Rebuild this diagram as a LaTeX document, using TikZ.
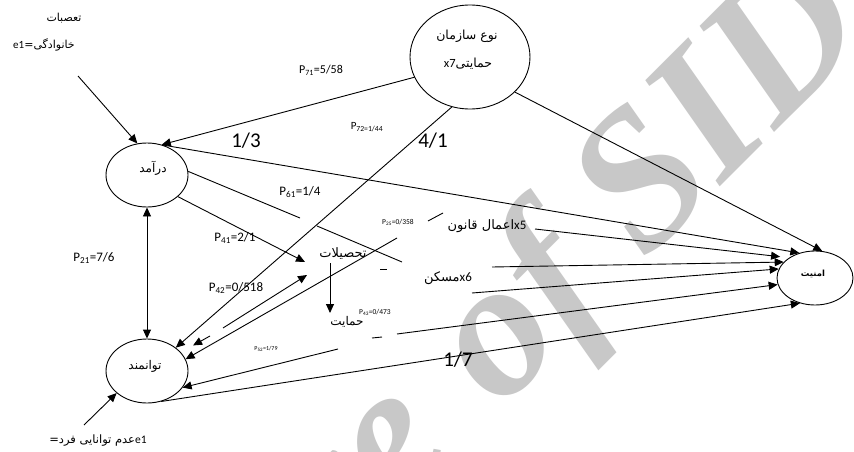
\documentclass[tikz,border=0pt]{standalone}
\usepackage{fontspec}
\setmainfont{Carlito}
\newfontfamily\fa[Script=Arabic]{DejaVu Sans}
\newfontfamily\wmf{Liberation Serif}
\TeXXeTstate=1
\usetikzlibrary{arrows.meta,shapes.geometric,calc}
\definecolor{wmgray}{RGB}{200,200,200}
\newcommand\lat[1]{{\rmfamily #1}}
\tikzset{
  ell/.style={draw, ellipse, line width=0.9pt, inner sep=0pt},
  con/.style={line width=0.9pt},
  arr/.style={con, -{Triangle[length=9pt,width=8pt]}},
  darr/.style={con, {Triangle[length=9pt,width=8pt]}-{Triangle[length=9pt,width=8pt]}},
  lbl/.style={inner sep=0pt, font=\fontsize{13}{15}\selectfont},
  big/.style={inner sep=0pt, font=\fontsize{21}{24}\selectfont},
  tiny/.style={inner sep=0pt, font=\fontsize{7.5}{9}\selectfont},
  fatxt/.style={inner sep=0pt, font=\fa\fontsize{11}{13}\selectfont},
  wm/.style={text=wmgray, inner sep=0pt, rotate=45, font=\wmf\bfseries\itshape\fontsize{195}{195}\selectfont},
}
\begin{document}
\begin{tikzpicture}[x=1pt,y=-1pt]
\useasboundingbox (0,0) rectangle (854,452);
\fill[white] (0,0) rectangle (854,452);
% watermark
\node[wm, anchor=base east] (wmA) at (458,452) {Archive};
\node[wm, anchor=base west] (wmB) at (500,411) {of};
\node[wm, anchor=base west] (wmC) at (645,262) {SID};

% ellipses
\node[ell, minimum width=82pt, minimum height=64pt] (dar) at (147,175) {};
\node[ell, minimum width=82pt, minimum height=64pt] (tav) at (147,371) {};
\node[ell, minimum width=120pt, minimum height=104pt] (x7) at (470,57) {};
\node[ell, minimum width=76pt, minimum height=54pt] (amn) at (815,278) {};

% texts in ellipses
\node[fatxt, font=\fa\fontsize{12}{14}\selectfont] (darT) at (153,168) {\beginR درآمد\endR};
\node[fatxt, font=\fa\fontsize{12}{14}\selectfont] (tavT) at (145,366) {\beginR توانمند\endR};
\node[fatxt, font=\fa\bfseries\fontsize{8.5}{10}\selectfont] (amnT) at (813,274) {\beginR امنیت\endR};
\node[fatxt, font=\fa\fontsize{12.5}{14}\selectfont] (x7T1) at (467,36) {\beginR نوع سازمان\endR};
\node[fatxt, font=\fa\fontsize{12.5}{14}\selectfont] (x7T2) at (468,64) {\beginR حمایتی\beginL\lat{x7}\endL\endR};

% error texts
\node[fatxt] (e1aT1) at (64,18) {\beginR تعصبات\endR};
\node[fatxt, font=\fa\fontsize{11}{13}\selectfont] (e1aT2) at (44,45) {\beginR خانوادگی=\beginL\lat{e1}\endL\endR};
\node[fatxt, font=\fa\fontsize{11.5}{13}\selectfont] (e1bT) at (98,441) {\beginR\beginL\lat{e1}\endL عدم توانایی فرد=\endR};

% middle texts
\node[fatxt, font=\fa\fontsize{13}{15}\selectfont] (tah) at (343,254) {\beginR تحصیلات\endR};
\node[fatxt, font=\fa\fontsize{12}{14}\selectfont] (hem) at (347,322) {\beginR حمایت\endR};
\node[fatxt, font=\fa\fontsize{13}{15}\selectfont] (x5) at (487,226) {\beginR\beginL\lat{x5}\endL اعمال قانون\endR};
\node[fatxt, font=\fa\fontsize{13}{15}\selectfont] (x6) at (448,278) {\beginR\beginL\lat{x6}\endL مسکن\endR};

% coefficient labels
\node[lbl, font=\fontsize{12}{14}\selectfont] (l71) at (321,70) {P\textsubscript{71}=5/58};
\node[lbl, font=\fontsize{11}{13}\selectfont] (l72) at (367,127) {P\textsubscript{72=1/44}};
\node[lbl] (l21) at (94,258) {P\textsubscript{21}=7/6};
\node[lbl] (l41) at (235,238) {P\textsubscript{41}=2/1};
\node[lbl] (l42) at (236,288) {P\textsubscript{42}=0/518};
\node[lbl] (l61) at (300,192) {P\textsubscript{61}=1/4};
\node[tiny] (l25) at (398,222) {P\textsubscript{25}=0/358};
\node[tiny] (l43) at (375,312) {P\textsubscript{43}=0/473};
\node[tiny, font=\fontsize{6}{7}\selectfont] (l52) at (266,349) {P\textsubscript{52}=1/79};
\node[big] (b13) at (246,141) {1/3};
\node[big] (b41) at (433,141) {4/1};
\node[big] (b17) at (458,360) {1/7};

% free ends
\coordinate (e1aS) at (78,76);
\coordinate (e1bS) at (84,425);
\coordinate (p61a) at (300,218);
\coordinate (p61b) at (317,226);
\coordinate (p61c) at (402,262);
\coordinate (tahA) at (305,262);
\coordinate (tahB) at (307,275);
\coordinate (p42g) at (223,328);
\coordinate (p42h) at (210,336);
\coordinate (tahV) at (330,263);
\coordinate (hemV) at (330,313);
\coordinate (x5a) at (443,213);
\coordinate (x5b) at (428,221);
\coordinate (x5c) at (397,238);
\coordinate (x5r) at (535,229);
\coordinate (x6d1) at (380,269);
\coordinate (x6d2) at (387,269);
\coordinate (x6r) at (492,267);
\coordinate (l5) at (472,293);
\coordinate (hd1) at (372,338);
\coordinate (hd2) at (382,337);
\coordinate (hs) at (397,334);
\coordinate (p52) at (338,349);

% connectors
\draw[arr] (e1aS) -- (dar.107);
\draw[arr] (e1bS) -- (tav.216);
\draw[arr] (x7.200) -- (dar.64);
\draw[arr] (x7.250) -- (tav.39);
\draw[arr] (x7.322) -- (amn.75);
\draw[arr] (dar.62) -- (amn.122);
\draw[con] (dar.5) -- (p61a);
\draw[con] (p61b) -- (p61c);
\draw[arr] (dar.325) -- (tahA);
\draw[darr] (dar.270) -- (tav.90);
\draw[arr] (p42g) -- (tahB);
\draw[arr, shorten >=14pt] (p42h) -- (tav.29);
\draw[arr] (tahV) -- (hemV);
\draw[con] (x5a) -- (x5b);
\draw[arr] (x5c) -- (tav.17);
\draw[arr, shorten >=9pt] (x5r) -- (amn.142);
\draw[con] (x6d1) -- (x6d2);
\draw[arr] (x6r) -- (amn.153);
\draw[arr] (l5) -- (amn.166);
\draw[con] (hd1) -- (hd2);
\draw[arr] (hs) -- (amn.190);
\draw[arr] (p52) -- (tav.335);
\draw[arr] (tav.295) -- (amn.239);
\end{tikzpicture}
\end{document}
